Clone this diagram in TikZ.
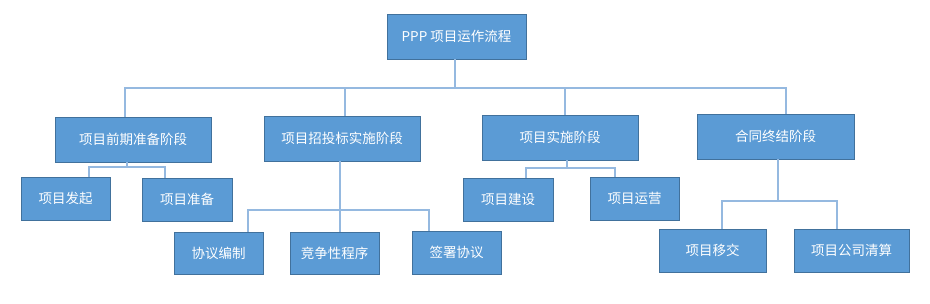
\documentclass[tikz,border=0pt]{standalone}
\usepackage{fontspec}
\newfontfamily\cjk{Noto Sans CJK SC}
\definecolor{boxfill}{HTML}{5B9BD5}
\definecolor{boxline}{HTML}{41719C}
\definecolor{connline}{HTML}{95B9E0}
\tikzset{
  box/.style={draw=boxline, line width=0.9pt, fill=boxfill, text=white, font=\cjk\fontsize{13.5}{16}\selectfont, inner sep=0pt, minimum height=45, minimum width=156},
  kid/.style={box, minimum height=43, minimum width=89},
  conn/.style={draw=connline, line width=1.4pt}
}
\begin{document}
\begin{tikzpicture}[x=1pt,y=-1pt]
\useasboundingbox (0,0) rectangle (930,303);
% nodes
\node[box, minimum width=139] (top) at (456.5,36.5) {PPP 项目运作流程};
\node[box] (A) at (133,139.5) {项目前期准备阶段};
\node[box] (B) at (342,138.5) {项目招投标实施阶段};
\node[box] (C) at (560,137.5) {项目实施阶段};
\node[box, minimum width=157] (D) at (775.5,136.5) {合同终结阶段};
\node[kid] (a1) at (65.5,198.5) {项目发起};
\node[kid, minimum width=90] (a2) at (187,199.5) {项目准备};
\node[kid, minimum height=42] (b1) at (218.5,253) {协议编制};
\node[kid, minimum height=42] (b2) at (334.5,253) {竞争性程序};
\node[kid] (b3) at (456.5,252.5) {签署协议};
\node[kid, minimum width=90] (c1) at (508,199.5) {项目建设};
\node[kid] (c2) at (634.5,198.5) {项目运营};
\node[kid, minimum width=107] (d1) at (712.5,250.5) {项目移交};
\node[kid, minimum width=115] (d2) at (851.5,250.5) {项目公司清算};
% bus coordinates
\coordinate (bus0) at (455,88);
\coordinate (busA) at (127,167);
\coordinate (busB) at (340,210);
\coordinate (busC) at (567,168);
\coordinate (busD) at (778,201);
% connectors
\draw[conn] (top.south -| bus0) -- (bus0);
\draw[conn] ([xshift=-8]A.north) |- (bus0) -| ([xshift=10.5]D.north);
\draw[conn] ([xshift=3]B.north) -- ([xshift=3]B.north |- bus0);
\draw[conn] ([xshift=5]C.north) -- ([xshift=5]C.north |- bus0);
\draw[conn] (A.south -| busA) -- (busA);
\draw[conn] ([xshift=23.5]a1.north) |- (busA) -| ([xshift=-22]a2.north);
\draw[conn] (B.south -| busB) -- (busB);
\draw[conn] ([xshift=29.5]b1.north) |- (busB) -| ([xshift=-27.5]b3.north);
\draw[conn] (busB) -- (b2.north -| busB);
\draw[conn] (C.south -| busC) -- (busC);
\draw[conn] ([xshift=18]c1.north) |- (busC) -| ([xshift=-19.5]c2.north);
\draw[conn] (D.south -| busD) -- (busD);
\draw[conn] ([xshift=9.5]d1.north) |- (busD) -| ([xshift=-14.5]d2.north);
\end{tikzpicture}
\end{document}
